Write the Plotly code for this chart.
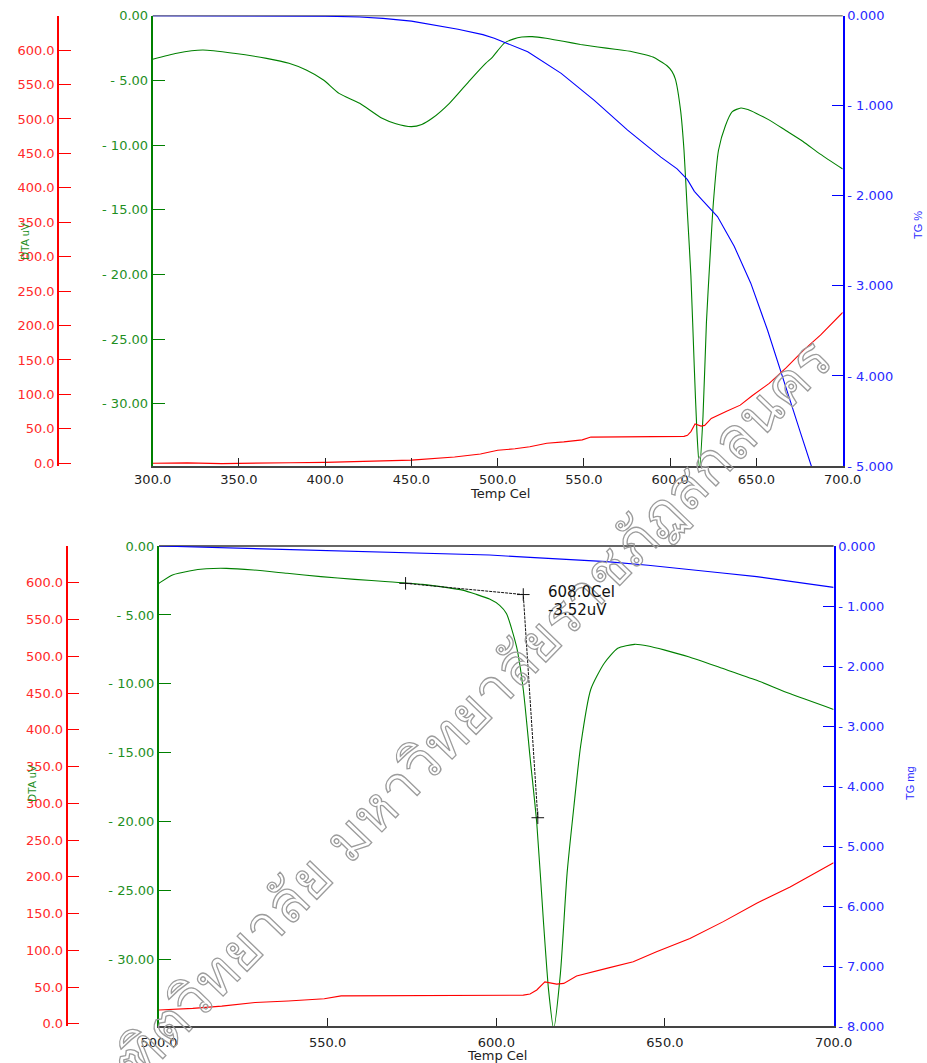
import plotly.graph_objects as go

W, H = 927, 1063
FONT = "DejaVu Sans"

# ---- measured data -------------------------------------------------------
# DTA signal (uV) against temperature (Cel)
dta_temp = [300, 314, 329, 347, 366, 379, 389, 399, 408, 420, 433, 441, 450,
            456, 462, 472, 484, 493, 497, 500, 504, 509, 514, 520, 528, 538,
            548, 558, 568, 578, 585, 590, 594, 598, 601, 603, 606, 608, 610,
            612, 614, 615.5, 617, 619, 621, 623, 625, 628, 632, 636, 641,
            645, 650, 657, 667, 677, 687, 700]
dta_uv = [-3.37, -2.9, -2.65, -2.9, -3.3, -3.68, -4.2, -4.97, -6.0, -6.77,
          -7.93, -8.35, -8.57, -8.4, -7.93, -6.77, -4.97, -3.68, -3.2, -2.7,
          -2.1, -1.81, -1.65, -1.62, -1.74, -1.98, -2.22, -2.42, -2.59, -2.78,
          -3.0, -3.2, -3.5, -3.85, -4.3, -4.9, -7.3, -10.4, -15.3, -20.1,
          -27.3, -32.2, -35.0, -31.0, -23.7, -18.9, -14.5, -10.4, -8.5,
          -7.42, -7.13, -7.25, -7.55, -8.03, -8.87, -9.72, -10.7, -11.85]

# red trace (left outer scale)
red_temp = [300, 320, 340, 360, 380, 400, 425, 450, 475, 490, 500, 510, 518.6,
            528.5, 538.3, 549, 554, 568, 578, 590, 600, 608, 610, 612, 614.4,
            617.9, 620, 623.8, 632.7, 640.6, 647.5, 657.4, 667.3, 677.2,
            687.1, 700]
red_vals = [0, 0.5, -0.5, 0.5, 0.8, 1.3, 2.5, 4.6, 9, 13.5, 18.8, 21, 24, 29,
            31, 34, 38, 38, 39, 38.5, 38, 39, 40.6, 46, 57, 54, 55, 65, 75.4,
            84.4, 98, 116, 139, 164, 186, 219]

# TG in percent (upper chart)
tgp_temp = [300, 350, 400, 420, 433.5, 450, 462.4, 477, 491.4, 498, 517.4,
            536.8, 556, 575.3, 594.6, 604, 610, 614, 617.8, 627.4, 637.1,
            646.7, 656.4, 666, 675.7, 681.8, 690]
tg_pct = [0, 0, -0.005, -0.015, -0.03, -0.06, -0.10, -0.15, -0.21, -0.25,
          -0.40, -0.64, -0.94, -1.27, -1.57, -1.70, -1.82, -1.95, -2.03,
          -2.23, -2.56, -2.97, -3.49, -4.05, -4.64, -5.0, -5.55]

# TG in mg (lower chart)
tgm_temp = [500, 525, 550, 575, 598, 610, 620, 632.7, 645, 657.4, 667,
            677.2, 688, 700]
tg_mg = [0, -0.04, -0.08, -0.12, -0.15, -0.19, -0.22, -0.26, -0.32, -0.40,
         -0.45, -0.51, -0.59, -0.69]

# extrapolated onset construction
onset_temp = [573.1, 608.0, 612.3]
onset_uv = [-2.71, -3.52, -19.7]

# axis ticks
x_top_ticks = [300, 350, 400, 450, 500, 550, 600, 650, 700]
x_bot_ticks = [500, 550, 600, 650, 700]
dta_ticks = [0, -5, -10, -15, -20, -25, -30]
red_ticks = list(range(0, 601, 50))
tgp_ticks = [0, -1, -2, -3, -4, -5]
tgm_ticks = [0, -1, -2, -3, -4, -5, -6, -7, -8]

GREEN, GREEN_T = "#008000", "#1f8f1f"
RED, RED_T = "#ff0000", "#ff2a2a"
BLUE, BLUE_T = "#0000ff", "#2a2aff"


def neg_label(v, fmt):
    s = format(abs(v), fmt)
    return s if v == 0 else "- " + s


def px(x):
    return x / W


def py(y):
    return 1 - y / H


fig = go.Figure()

# upper chart
fig.add_trace(go.Scatter(x=red_temp, y=red_vals, xaxis="x", yaxis="y3",
                         mode="lines", line=dict(color=RED, width=1.1)))
fig.add_trace(go.Scatter(x=tgp_temp, y=tg_pct, xaxis="x", yaxis="y2",
                         mode="lines", line=dict(color=BLUE, width=1.1)))
fig.add_trace(go.Scatter(x=dta_temp, y=dta_uv, xaxis="x", yaxis="y",
                         mode="lines", line=dict(color=GREEN, width=1.1,
                                                 shape="spline", smoothing=0.6)))

# lower chart
fig.add_trace(go.Scatter(x=red_temp, y=red_vals, xaxis="x2", yaxis="y6",
                         mode="lines", line=dict(color=RED, width=1.1)))
fig.add_trace(go.Scatter(x=tgm_temp, y=tg_mg, xaxis="x2", yaxis="y5",
                         mode="lines", line=dict(color=BLUE, width=1.1)))
fig.add_trace(go.Scatter(x=dta_temp, y=dta_uv, xaxis="x2", yaxis="y4",
                         mode="lines", line=dict(color=GREEN, width=1.1,
                                                 shape="spline", smoothing=0.6)))
fig.add_trace(go.Scatter(x=onset_temp, y=onset_uv, xaxis="x2", yaxis="y4",
                         mode="lines+markers",
                         line=dict(color="#111111", width=1, dash="3px,1px"),
                         marker=dict(symbol="cross-thin", size=9,
                                     line=dict(color="#111111", width=1))))

top_x = [px(152.7), px(842.7)]
top_y = [py(466), py(15.7)]
bot_x = [px(159), px(833.6)]
bot_y = [py(1026), py(546)]

tick_font = dict(family=FONT, size=13)


def xaxis(domain, anchor, rng, ticks, standoff):
    return dict(domain=domain, anchor=anchor, range=rng, tickvals=ticks,
                ticktext=[f"{t:.1f}" for t in ticks], ticks="inside",
                ticklen=8, tickwidth=1.3, tickcolor="#222", showline=True,
                linecolor="#444", linewidth=1.5, showgrid=False,
                zeroline=False, automargin=False, ticklabelstandoff=standoff,
                tickfont=dict(tick_font, color="#222"))


def yaxis_green(domain, anchor, rng):
    return dict(domain=domain, anchor=anchor, range=rng, tickvals=dta_ticks,
                ticktext=[neg_label(t, ".2f") for t in dta_ticks],
                ticks="inside", ticklen=12, tickcolor=GREEN, showline=True,
                linecolor=GREEN, linewidth=2, showgrid=False, zeroline=False,
                automargin=False, tickfont=dict(tick_font, color=GREEN_T))


def yaxis_blue(overlay, anchor, rng, ticks):
    return dict(overlaying=overlay, anchor=anchor, side="right", range=rng,
                tickvals=ticks, ticktext=[neg_label(t, ".3f") for t in ticks],
                ticks="inside", ticklen=11, tickcolor=BLUE, showline=True,
                linecolor=BLUE, linewidth=2, showgrid=False, zeroline=False,
                automargin=False, tickfont=dict(tick_font, color=BLUE_T))


def yaxis_red(overlay, pos, rng):
    return dict(overlaying=overlay, anchor="free", position=pos, side="left",
                range=rng, tickvals=red_ticks,
                ticktext=[f"{t:.1f}" for t in red_ticks], ticks="inside",
                ticklen=12, tickcolor=RED, showline=True, linecolor=RED,
                linewidth=1.5, showgrid=False, zeroline=False,
                automargin=False, tickfont=dict(tick_font, color=RED_T))


fig.update_layout(
    width=W, height=H, margin=dict(l=0, r=0, t=0, b=0, autoexpand=False),
    paper_bgcolor="white", plot_bgcolor="white", showlegend=False,
    font=dict(family=FONT),
    xaxis=xaxis(top_x, "y", [300, 700], x_top_ticks, 1),
    yaxis=yaxis_green(top_y, "x", [-34.8, 0]),
    yaxis2=yaxis_blue("y", "x", [-5, 0], tgp_ticks),
    yaxis3=yaxis_red("y", px(58), [-4, 650]),
    xaxis2=xaxis(bot_x, "y4", [500, 700], x_bot_ticks, 4),
    yaxis4=yaxis_green(bot_y, "x2", [-34.8, 0]),
    yaxis5=yaxis_blue("y4", "x2", [-8, 0], tgm_ticks),
    yaxis6=yaxis_red("y4", px(66.5), [-3, 650]),
)

# frame lines along the top of each chart
fig.add_shape(type="line", xref="paper", yref="paper", layer="below",
              x0=top_x[0], x1=top_x[1], y0=top_y[1], y1=top_y[1],
              line=dict(color="#8a8a8a", width=1.5))
fig.add_shape(type="line", xref="paper", yref="paper", layer="below",
              x0=bot_x[0], x1=bot_x[1], y0=bot_y[1], y1=bot_y[1],
              line=dict(color="#333333", width=1.5))

WATERMARK = "บัณฑิตวิทยาลัย มหาวิทยาลัยราชภัฏสกลนคร"

title_font = dict(family="Liberation Sans", size=11)
ann = [
    # diagonal outlined watermark (drawn first so labels sit above it)
    dict(x=px(440), y=py(743), textangle=-46, text=WATERMARK,
         font=dict(family="Garuda, Loma, Norasi, Kinnari, Noto Sans Thai Looped, "
                          "Noto Sans Thai, sans-serif",
                   size=57, color="rgba(160,160,160,0.45)")),
    dict(x=px(25), y=py(241), text="DTA uV", textangle=-90,
         font=dict(title_font, color=GREEN_T)),
    dict(x=px(918), y=py(225), text="TG %", textangle=-90,
         font=dict(title_font, color=BLUE_T)),
    dict(x=px(500), y=py(493), text="Temp Cel",
         font=dict(family=FONT, size=13, color="#222")),
    dict(x=px(32), y=py(783), text="DTA uV", textangle=-90,
         font=dict(title_font, color=GREEN_T)),
    dict(x=px(910), y=py(783), text="TG mg", textangle=-90,
         font=dict(title_font, color=BLUE_T)),
    dict(x=px(497), y=py(1055), text="Temp Cel",
         font=dict(family=FONT, size=13, color="#222")),
    dict(x=px(546), y=py(592), text="608.0Cel", xanchor="left",
         font=dict(family=FONT, size=15, color="#111")),
    dict(x=px(546), y=py(610), text="-3.52uV", xanchor="left",
         font=dict(family=FONT, size=15, color="#111")),
]
for a in ann:
    a.setdefault("xref", "paper")
    a.setdefault("yref", "paper")
    a.setdefault("showarrow", False)
    a.setdefault("xanchor", "center")
    a.setdefault("yanchor", "middle")
    fig.add_annotation(**a)

# draw the watermark glyphs as hollow outlines
outline_js = r"""
var gd = document.getElementById('{plot_id}');
gd.querySelectorAll('.annotation-text').forEach(function (t) {
  if (/[\u0E00-\u0E7F]/.test(t.textContent)) {
    t.style.fill = 'none';
    t.style.stroke = '#9c9c9c';
    t.style.strokeWidth = '1.3px';
  }
});
"""

fig.write_html("out.html", post_script=outline_js)
